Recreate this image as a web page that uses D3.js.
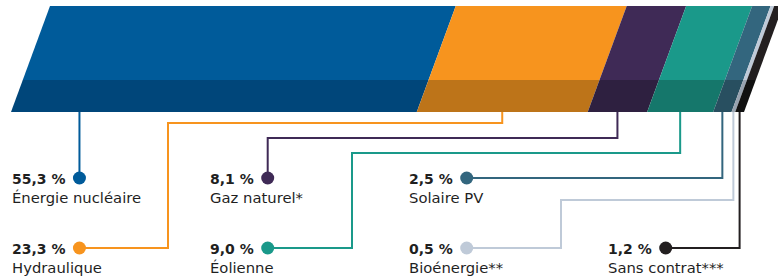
<!DOCTYPE html>
<html>
<head>
<meta charset="utf-8">
<script src="https://cdnjs.cloudflare.com/ajax/libs/d3/7.8.5/d3.min.js"></script>
<style>
  html, body { margin: 0; padding: 0; background: #fff; }
  svg { display: block; }
  text { font-family: "DejaVu Sans", sans-serif; fill: #1f1f1f; }
</style>
</head>
<body>
<svg id="chart" width="778" height="276"></svg>
<script>
// data
var sources = ["Énergie nucléaire", "Hydraulique", "Gaz naturel*", "Éolienne", "Solaire PV", "Bioénergie**", "Sans contrat***"];
var shares = [55.3, 23.3, 8.1, 9.0, 2.5, 0.5, 1.2];
var shareLabels = ["55,3 %", "23,3 %", "8,1 %", "9,0 %", "2,5 %", "0,5 %", "1,2 %"];
var colors = ["#005b9a", "#f7941e", "#3f2a56", "#1a998a", "#33667e", "#bfcad8", "#231f20"];
var darkColors = ["#00467a", "#bd7419", "#2e2040", "#15776b", "#284f60", "#98a3b0", "#111111"];

// label layout: column x of the text, row, where the leader bends
var labelSlots = [
  { col: 0, row: 0, elbowY: null, turnX: null },
  { col: 0, row: 1, elbowY: 123, turnX: 168 },
  { col: 1, row: 0, elbowY: 138, turnX: null },
  { col: 1, row: 1, elbowY: 153, turnX: 352 },
  { col: 2, row: 0, elbowY: null, turnX: null },
  { col: 2, row: 1, elbowY: 200, turnX: 561 },
  { col: 3, row: 1, elbowY: null, turnX: null }
];
var colX = [12, 210, 409, 608];
var rowY = [184, 254];

var svg = d3.select("#chart");

var yTop = 6, yBand = 80, yBot = 112;
var skew = 39 / (yBot - yTop);

var total = d3.sum(shares);
var x = d3.scaleLinear().domain([0, total]).range([11, 744]);

var cum = [];
var acc = 0;
shares.forEach(function (v) { cum.push([acc, acc + v]); acc += v; });

function at(v, y) { return x(v) + (yBot - y) * skew; }

function quad(d, y0, y1) {
  return [[at(d[0], y0), y0], [at(d[1], y0), y0], [at(d[1], y1), y1], [at(d[0], y1), y1]];
}

var bar = svg.append("g");
bar.selectAll("polygon.top")
  .data(cum)
  .enter()
  .append("polygon")
  .attr("class", "top")
  .attr("points", function (d) { return quad(d, yTop, yBand).join(" "); })
  .attr("fill", function (d, i) { return colors[i]; });

bar.selectAll("polygon.band")
  .data(cum)
  .enter()
  .append("polygon")
  .attr("class", "band")
  .attr("points", function (d) { return quad(d, yBand, yBot).join(" "); })
  .attr("fill", function (d, i) { return darkColors[i]; });

// leaders + labels
var leaders = svg.append("g");
var labels = svg.append("g");

sources.forEach(function (name, i) {
  var slot = labelSlots[i];
  var tx = colX[slot.col];
  var vy = rowY[slot.row];

  var valText = labels.append("text")
    .attr("x", tx)
    .attr("y", vy)
    .attr("font-size", 14)
    .attr("font-weight", 700)
    .text(shareLabels[i]);

  labels.append("text")
    .attr("x", tx)
    .attr("y", vy + 18.5)
    .attr("font-size", 14.8)
    .text(name);

  var w = valText.node().getComputedTextLength();
  var dotX = tx + w + 14;
  var dotY = vy - 6;

  var startX = x((cum[i][0] + cum[i][1]) / 2);
  var pts;
  if (dotX > x(cum[i][0]) && dotX < x(cum[i][1])) {
    pts = [[dotX, yBot], [dotX, dotY]];
  } else {
    pts = [[startX, yBot]];
    if (slot.elbowY !== null) {
      pts.push([startX, slot.elbowY]);
      if (slot.turnX !== null) {
        pts.push([slot.turnX, slot.elbowY]);
        pts.push([slot.turnX, dotY]);
      } else {
        pts.push([dotX, slot.elbowY]);
      }
    } else {
      pts.push([startX, dotY]);
    }
    pts.push([dotX, dotY]);
  }

  leaders.append("path")
    .attr("d", d3.line()(pts))
    .attr("fill", "none")
    .attr("stroke", colors[i])
    .attr("stroke-width", 2);

  leaders.append("circle")
    .attr("cx", dotX)
    .attr("cy", dotY)
    .attr("r", 6.5)
    .attr("fill", colors[i]);
});
</script>
</body>
</html>
